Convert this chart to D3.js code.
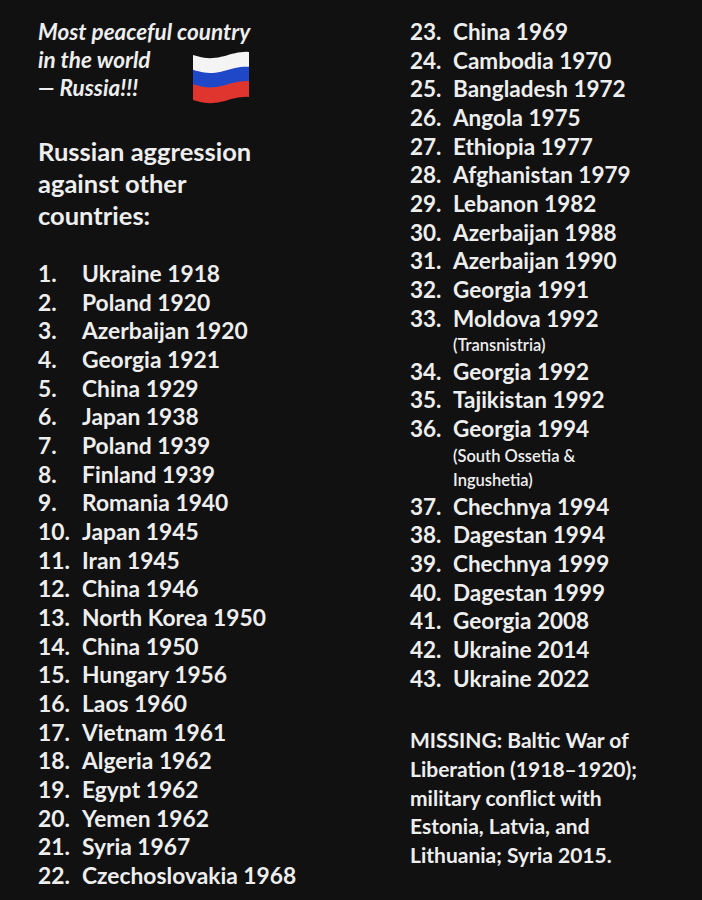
<!DOCTYPE html>
<html><head><meta charset="utf-8">
<script src="https://cdn.jsdelivr.net/npm/d3@7"></script>
<style>body{margin:0;background:#111111}</style>
</head><body>
<svg id="chart"></svg>
<script>
const leftItems = ["Ukraine 1918","Poland 1920","Azerbaijan 1920","Georgia 1921","China 1929","Japan 1938","Poland 1939","Finland 1939","Romania 1940","Japan 1945","Iran 1945","China 1946","North Korea 1950","China 1950","Hungary 1956","Laos 1960","Vietnam 1961","Algeria 1962","Egypt 1962","Yemen 1962","Syria 1967","Czechoslovakia 1968"];
const rightItems = ["China 1969","Cambodia 1970","Bangladesh 1972","Angola 1975","Ethiopia 1977","Afghanistan 1979","Lebanon 1982","Azerbaijan 1988","Azerbaijan 1990","Georgia 1991","Moldova 1992","Georgia 1992","Tajikistan 1992","Georgia 1994","Chechnya 1994","Dagestan 1994","Chechnya 1999","Dagestan 1999","Georgia 2008","Ukraine 2014","Ukraine 2022"];
const notes = {33: ["(Transnistria)"], 36: ["(South Ossetia &", "Ingushetia)"]};
const titleLines = ["Most peaceful country", "in the world", "— Russia!!!"];
const headLines = ["Russian aggression", "against other", "countries:"];
const missingLines = ["MISSING: Baltic War of", "Liberation (1918–1920);", "military conflict with", "Estonia, Latvia, and", "Lithuania; Syria 2015."];

const W = 702, H = 900, font = "Lato, 'Open Sans', sans-serif", fg = "#eeeeee";
const svg = d3.select("#chart").attr("width", W).attr("height", H);
svg.append("rect").attr("width", W).attr("height", H).attr("fill", "#111111");

const step = 28.67;
const yLeft = d3.scaleLinear().domain([0, 1]).range([274, 274 + step]);

function txt(x, y, s, size, opts = {}) {
  return svg.append("text").attr("x", x).attr("y", y).attr("dy", "0.35em")
    .attr("fill", fg).attr("font-family", font).attr("font-size", size)
    .attr("font-weight", opts.weight || 700).attr("font-style", opts.style || "normal").text(s);
}

titleLines.forEach((s, i) => txt(38, 32 + i * 28, s, 22.5, {style: "italic"}));
headLines.forEach((s, i) => txt(38, 152 + i * 32, s, 25.5));

leftItems.forEach((s, i) => {
  txt(38, yLeft(i), (i + 1) + ".", 22.8);
  txt(82, yLeft(i), s, 22.8);
});

let y = 32;
rightItems.forEach((s, i) => {
  const n = i + 23;
  txt(410, y, n + ".", 22.5);
  txt(453, y, s, 22.5);
  y += step;
  if (notes[n]) {
    notes[n].forEach(l => { txt(453, y - 2, l, 16.5, {weight: 600}); y += 24.5; });
  }
});
missingLines.forEach((s, i) => txt(410, 741 + i * 28.7, s, 21));

// waving flag
const fx = d3.scaleLinear().domain([0, 1]).range([193, 249]);
const fy = d3.scaleLinear().domain([0, 1]).range([55, 100]);
const wave = t => Math.sin(t * Math.PI * 1.6) * 0.07;
const band = (a, b) => {
  const pts = d3.range(0, 1.001, 0.05);
  const top = pts.map(t => [fx(t), fy(a + wave(t))]);
  const bot = pts.slice().reverse().map(t => [fx(t), fy(b + wave(t))]);
  return d3.line()(top.concat(bot)) + "Z";
};
[["#f4f4f4", 0, 0.36], ["#1f48c9", 0.33, 0.68], ["#e0352f", 0.65, 1]].forEach(([c, a, b]) =>
  svg.append("path").attr("d", band(a, b)).attr("fill", c));
</script>
</body></html>
